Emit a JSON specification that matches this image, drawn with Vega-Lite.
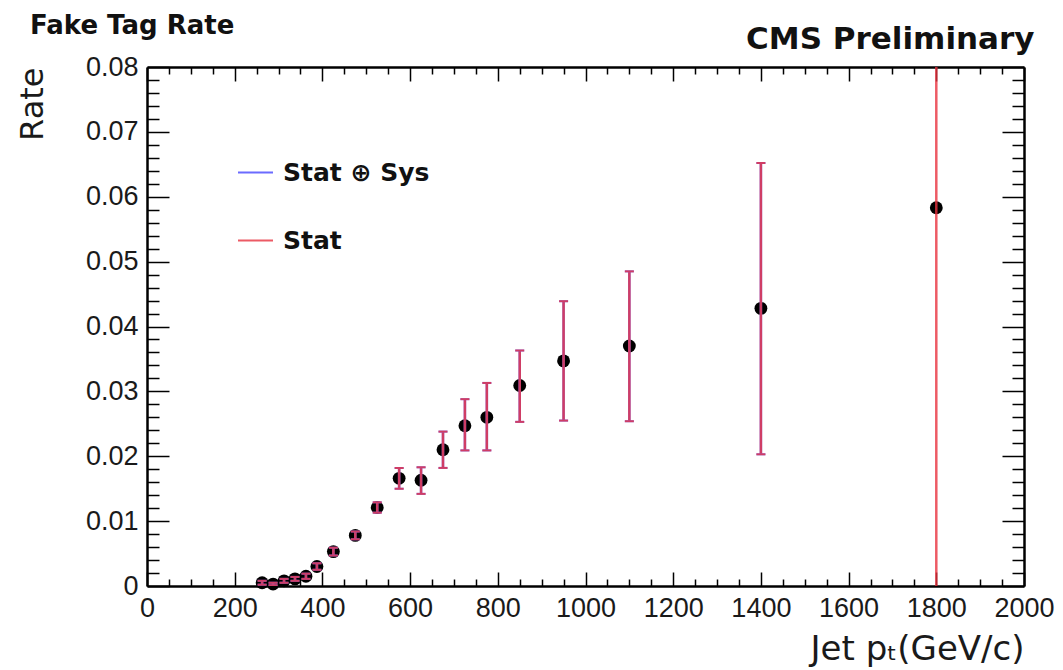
{
  "$schema": "https://vega.github.io/schema/vega-lite/v6.json",
  "width": 877,
  "height": 519,
  "autosize": "none",
  "padding": {"left": 147, "top": 67, "right": 39, "bottom": 84},
  "background": "white",
  "title": {
    "text": "Fake Tag Rate",
    "anchor": "start",
    "frame": "group",
    "font": "DejaVu Sans",
    "fontWeight": "bold",
    "fontSize": 26,
    "color": "#111",
    "dx": -117,
    "dy": 20
  },
  "config": {
    "view": {"stroke": null},
    "legend": {
      "orient": "none",
      "legendX": 90,
      "legendY": 87,
      "direction": "vertical",
      "symbolType": "stroke",
      "symbolSize": 1225,
      "symbolStrokeWidth": 2,
      "labelFont": "DejaVu Sans",
      "labelFontWeight": "bold",
      "labelFontSize": 25,
      "labelColor": "#111",
      "labelOffset": 9,
      "rowPadding": 36,
      "padding": 0,
      "title": null
    }
  },
  "datasets": {
    "points": [
      {"pt": 262.5, "rate": 0.0005},
      {"pt": 287.5, "rate": 0.0003},
      {"pt": 312.5, "rate": 0.0008},
      {"pt": 337.5, "rate": 0.0011},
      {"pt": 362.5, "rate": 0.0015},
      {"pt": 387.5, "rate": 0.0030},
      {"pt": 425, "rate": 0.0053},
      {"pt": 475, "rate": 0.0078},
      {"pt": 525, "rate": 0.0121},
      {"pt": 575, "rate": 0.0166},
      {"pt": 625, "rate": 0.0163},
      {"pt": 675, "rate": 0.0210},
      {"pt": 725, "rate": 0.0247},
      {"pt": 775, "rate": 0.0260},
      {"pt": 850, "rate": 0.0309},
      {"pt": 950, "rate": 0.0347},
      {"pt": 1100, "rate": 0.0370},
      {"pt": 1400, "rate": 0.0428},
      {"pt": 1800, "rate": 0.0583}
    ],
    "errors": [
      {"pt": 262.5, "lo": 0.0002, "hi": 0.0008, "type": "Stat ⊕ Sys"},
      {"pt": 287.5, "lo": 0.0001, "hi": 0.0005, "type": "Stat ⊕ Sys"},
      {"pt": 312.5, "lo": 0.0005, "hi": 0.0011, "type": "Stat ⊕ Sys"},
      {"pt": 337.5, "lo": 0.0008, "hi": 0.0014, "type": "Stat ⊕ Sys"},
      {"pt": 362.5, "lo": 0.0011, "hi": 0.0019, "type": "Stat ⊕ Sys"},
      {"pt": 387.5, "lo": 0.0025, "hi": 0.0035, "type": "Stat ⊕ Sys"},
      {"pt": 425, "lo": 0.0047, "hi": 0.0059, "type": "Stat ⊕ Sys"},
      {"pt": 475, "lo": 0.0072, "hi": 0.0084, "type": "Stat ⊕ Sys"},
      {"pt": 525, "lo": 0.0113, "hi": 0.0129, "type": "Stat ⊕ Sys"},
      {"pt": 575, "lo": 0.0150, "hi": 0.0182, "type": "Stat ⊕ Sys"},
      {"pt": 625, "lo": 0.0142, "hi": 0.0183, "type": "Stat ⊕ Sys"},
      {"pt": 675, "lo": 0.0182, "hi": 0.0238, "type": "Stat ⊕ Sys"},
      {"pt": 725, "lo": 0.0209, "hi": 0.0288, "type": "Stat ⊕ Sys"},
      {"pt": 775, "lo": 0.0209, "hi": 0.0313, "type": "Stat ⊕ Sys"},
      {"pt": 850, "lo": 0.0253, "hi": 0.0363, "type": "Stat ⊕ Sys"},
      {"pt": 950, "lo": 0.0255, "hi": 0.0439, "type": "Stat ⊕ Sys"},
      {"pt": 1100, "lo": 0.0254, "hi": 0.0485, "type": "Stat ⊕ Sys"},
      {"pt": 1400, "lo": 0.0203, "hi": 0.0652, "type": "Stat ⊕ Sys"},
      {"pt": 262.5, "lo": 0.0002, "hi": 0.0008, "type": "Stat"},
      {"pt": 287.5, "lo": 0.0001, "hi": 0.0005, "type": "Stat"},
      {"pt": 312.5, "lo": 0.0005, "hi": 0.0011, "type": "Stat"},
      {"pt": 337.5, "lo": 0.0008, "hi": 0.0014, "type": "Stat"},
      {"pt": 362.5, "lo": 0.0011, "hi": 0.0019, "type": "Stat"},
      {"pt": 387.5, "lo": 0.0025, "hi": 0.0035, "type": "Stat"},
      {"pt": 425, "lo": 0.0047, "hi": 0.0059, "type": "Stat"},
      {"pt": 475, "lo": 0.0072, "hi": 0.0084, "type": "Stat"},
      {"pt": 525, "lo": 0.0113, "hi": 0.0129, "type": "Stat"},
      {"pt": 575, "lo": 0.0150, "hi": 0.0182, "type": "Stat"},
      {"pt": 625, "lo": 0.0142, "hi": 0.0183, "type": "Stat"},
      {"pt": 675, "lo": 0.0182, "hi": 0.0238, "type": "Stat"},
      {"pt": 725, "lo": 0.0209, "hi": 0.0288, "type": "Stat"},
      {"pt": 775, "lo": 0.0209, "hi": 0.0313, "type": "Stat"},
      {"pt": 850, "lo": 0.0253, "hi": 0.0363, "type": "Stat"},
      {"pt": 950, "lo": 0.0255, "hi": 0.0439, "type": "Stat"},
      {"pt": 1100, "lo": 0.0254, "hi": 0.0485, "type": "Stat"},
      {"pt": 1400, "lo": 0.0203, "hi": 0.0652, "type": "Stat"},
      {"pt": 1800, "lo": -0.05, "hi": 0.17, "type": "Stat"}
    ]
  },
  "resolve": {"axis": {"x": "independent", "y": "independent"}},
  "layer": [
    {
      "data": {"name": "points"},
      "mark": {"type": "circle", "color": "#000", "opacity": 1, "size": 165},
      "encoding": {
        "x": {
          "field": "pt", "type": "quantitative",
          "scale": {"domain": [0, 2000], "nice": false, "zero": false},
          "axis": {
            "orient": "bottom",
            "values": [0,50,100,150,200,250,300,350,400,450,500,550,600,650,700,750,800,850,900,950,1000,1050,1100,1150,1200,1250,1300,1350,1400,1450,1500,1550,1600,1650,1700,1750,1800,1850,1900,1950,2000],
            "format": "d",
            "labelExpr": "datum.value % 200 === 0 ? datum.label : ''",
            "labelFlush": false,
            "labelOverlap": false,
            "labelFont": "Liberation Sans",
            "labelFontSize": 27,
            "labelColor": "#1a1a1a",
            "labelPadding": 23,
            "tickSize": {"expr": "datum.value % 200 === 0 ? -14 : -7"},
            "tickColor": "#000",
            "tickWidth": 1.5,
            "domainColor": "#000",
            "domainWidth": 2.5,
            "grid": false,
            "title": "Jet pₜ(GeV/c)",
            "titleFont": "DejaVu Sans",
            "titleFontWeight": "normal",
            "titleFontSize": 34,
            "titleColor": "#1a1a1a",
            "titleAnchor": "end",
            "titlePadding": 4
          }
        },
        "y": {
          "field": "rate", "type": "quantitative",
          "scale": {"domain": [0, 0.08], "nice": false},
          "axis": {
            "orient": "left",
            "values": [0,0.002,0.004,0.006,0.008,0.01,0.012,0.014,0.016,0.018,0.02,0.022,0.024,0.026,0.028,0.03,0.032,0.034,0.036,0.038,0.04,0.042,0.044,0.046,0.048,0.05,0.052,0.054,0.056,0.058,0.06,0.062,0.064,0.066,0.068,0.07,0.072,0.074,0.076,0.078,0.08],
            "labelExpr": "round(datum.value * 1000) % 10 === 0 ? (datum.value === 0 ? '0' : format(datum.value, '.2f')) : ''",
            "labelFlush": false,
            "labelOverlap": false,
            "labelFont": "Liberation Sans",
            "labelFontSize": 27,
            "labelColor": "#1a1a1a",
            "labelPadding": 31,
            "tickSize": {"expr": "round(datum.value * 1000) % 10 === 0 ? -22 : -12"},
            "tickColor": "#000",
            "tickWidth": 1.5,
            "domainColor": "#000",
            "domainWidth": 2.5,
            "grid": false,
            "title": "Rate",
            "titleFont": "DejaVu Sans",
            "titleFontWeight": "normal",
            "titleFontSize": 32,
            "titleColor": "#1a1a1a",
            "titleAnchor": "end",
            "titlePadding": 36
          }
        }
      }
    },
    {
      "data": {"name": "errors"},
      "mark": {"type": "rule", "strokeWidth": 2.5, "clip": true},
      "encoding": {
        "x": {
          "field": "pt", "type": "quantitative",
          "axis": {
            "orient": "top",
            "values": [0,50,100,150,200,250,300,350,400,450,500,550,600,650,700,750,800,850,900,950,1000,1050,1100,1150,1200,1250,1300,1350,1400,1450,1500,1550,1600,1650,1700,1750,1800,1850,1900,1950,2000],
            "labels": false,
            "tickSize": {"expr": "datum.value % 200 === 0 ? -14 : -7"},
            "tickColor": "#000",
            "tickWidth": 1.5,
            "domainColor": "#000",
            "domainWidth": 2.5,
            "grid": false,
            "title": "CMS Preliminary",
            "titleFont": "DejaVu Sans",
            "titleFontWeight": "bold",
            "titleFontSize": 31,
            "titleColor": "#111",
            "titleAnchor": "end",
            "titleAlign": "right",
            "titleX": 887,
            "titlePadding": 11
          }
        },
        "y": {
          "field": "lo", "type": "quantitative",
          "axis": {
            "orient": "right",
            "values": [0,0.002,0.004,0.006,0.008,0.01,0.012,0.014,0.016,0.018,0.02,0.022,0.024,0.026,0.028,0.03,0.032,0.034,0.036,0.038,0.04,0.042,0.044,0.046,0.048,0.05,0.052,0.054,0.056,0.058,0.06,0.062,0.064,0.066,0.068,0.07,0.072,0.074,0.076,0.078,0.08],
            "labels": false,
            "tickSize": {"expr": "round(datum.value * 1000) % 10 === 0 ? -22 : -12"},
            "tickColor": "#000",
            "tickWidth": 1.5,
            "domainColor": "#000",
            "domainWidth": 2.5,
            "grid": false,
            "title": null
          }
        },
        "y2": {"field": "hi"},
        "color": {
          "field": "type", "type": "nominal",
          "scale": {"domain": ["Stat ⊕ Sys", "Stat"], "range": ["#6b6bff", "#e8323f"]},
          "legend": {}
        },
        "opacity": {
          "field": "type", "type": "nominal",
          "scale": {"domain": ["Stat ⊕ Sys", "Stat"], "range": [1, 0.8]},
          "legend": null
        }
      }
    },
    {
      "data": {"name": "errors"},
      "mark": {"type": "tick", "orient": "horizontal", "size": 9, "thickness": 2, "clip": true},
      "encoding": {
        "x": {"field": "pt", "type": "quantitative", "axis": null},
        "y": {"field": "lo", "type": "quantitative", "axis": null},
        "color": {"field": "type", "type": "nominal", "legend": null},
        "opacity": {"field": "type", "type": "nominal", "legend": null}
      }
    },
    {
      "data": {"name": "errors"},
      "mark": {"type": "tick", "orient": "horizontal", "size": 9, "thickness": 2, "clip": true},
      "encoding": {
        "x": {"field": "pt", "type": "quantitative", "axis": null},
        "y": {"field": "hi", "type": "quantitative", "axis": null},
        "color": {"field": "type", "type": "nominal", "legend": null},
        "opacity": {"field": "type", "type": "nominal", "legend": null}
      }
    }
  ]
}
